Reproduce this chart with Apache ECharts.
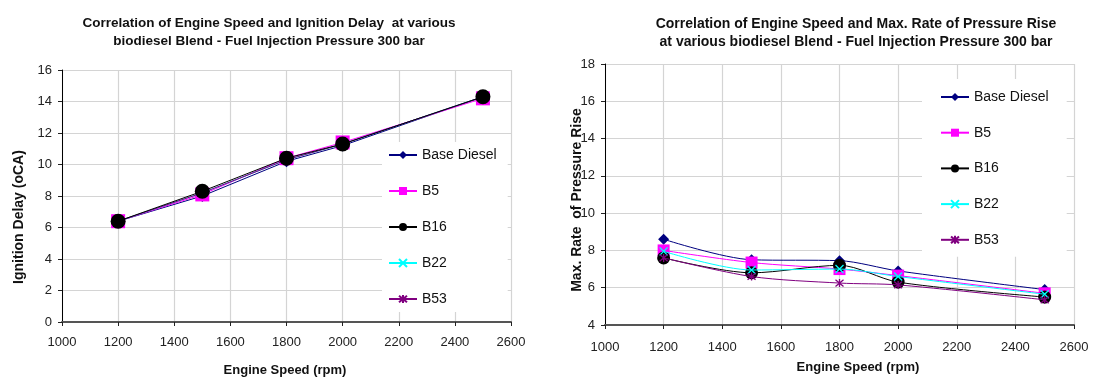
<!DOCTYPE html>
<html>
<head>
<meta charset="utf-8">
<script src="https://cdn.jsdelivr.net/npm/echarts@6/dist/echarts.min.js"></script>
<style>
html,body{margin:0;padding:0;background:#fff;}
#c{width:1097px;height:380px;}
</style>
</head>
<body>
<div id="c"></div>
<script>
// ---- data ----
const speeds = [1200, 1500, 1800, 2000, 2500];
const seriesNames = ['Base Diesel', 'B5', 'B16', 'B22', 'B53'];
const xTicks = [1000, 1200, 1400, 1600, 1800, 2000, 2200, 2400, 2600];

const delayBase = [6.4, 8.0, 10.2, 11.2, 14.3];
const delayB5   = [6.4, 8.1, 10.4, 11.4, 14.2];
const delayB16  = [6.4, 8.3, 10.4, 11.3, 14.3];
const delayB22  = [6.4, 8.2, 10.3, 11.3, 14.3];
const delayB53  = [6.4, 8.2, 10.3, 11.3, 14.3];

const rateBase = [8.6, 7.5, 7.45, 6.9, 5.9];
const rateB5   = [8.0, 7.35, 7.0, 6.65, 5.7];
const rateB16  = [7.6, 6.8, 7.2, 6.3, 5.5];
const rateB22  = [7.95, 6.95, 7.0, 6.6, 5.65];
const rateB53  = [7.6, 6.6, 6.25, 6.15, 5.35];

const titleLeft = 'Correlation of Engine Speed and Ignition Delay  at various\nbiodiesel Blend - Fuel Injection Pressure 300 bar';
const titleRight = 'Correlation of Engine Speed and Max. Rate of Pressure Rise\nat various biodiesel Blend - Fuel Injection Pressure 300 bar';
const xName = 'Engine Speed (rpm)';
const yNameLeft = 'Ignition Delay (oCA)';
const yNameRight = 'Max. Rate  of Pressure Rise';

// ---- styles ----
const FONT = '"Liberation Sans", Arial, sans-serif';
const styles = [
  {color: '#000080', symbol: 'diamond', size: [12, 11]},
  {color: '#FF00FF', symbol: 'rect', size: [14, 12]},
  {color: '#000000', symbol: 'circle', size: [15, 13]},
  {color: '#00FFFF', symbol: 'path://M0,0L10,10M10,0L0,10', size: [8, 8]},
  {color: '#800080', symbol: 'path://M0,0L10,10M10,0L0,10M5,-1L5,11', size: [8, 8]}
];
const leftData = [delayBase, delayB5, delayB16, delayB22, delayB53];
const rightData = [rateBase, rateB5, rateB16, rateB22, rateB53];

function mkSeries(dataArr, idx, smooth) {
  return dataArr.map((vals, i) => {
    const s = styles[i];
    const isPath = s.symbol.startsWith('path');
    return {
      name: seriesNames[i],
      type: 'line',
      xAxisIndex: idx, yAxisIndex: idx,
      data: speeds.map((x, j) => [x, vals[j]]),
      symbol: s.symbol,
      symbolSize: s.size[idx],
      smooth: smooth,
      lineStyle: {color: s.color, width: 1},
      itemStyle: isPath ? {color: s.color, borderColor: s.color, borderWidth: 1.3}
                        : {color: s.color, borderWidth: 0},
      emphasis: {disabled: true},
      animation: false,
      z: (idx === 0 && i === 2) ? 10 : 3 + i
    };
  });
}

function xAxisOpt(idx, margin) {
  return {
    type: 'value', gridIndex: idx, min: 1000, max: 2600, interval: 200,
    axisLine: {show: true, lineStyle: {color: '#555', width: 2}},
    axisTick: {show: true, length: 4, lineStyle: {color: '#222'}},
    axisLabel: {color: '#222', fontFamily: FONT, fontSize: 13, margin: margin,
      formatter: v => (xTicks.indexOf(v) >= 0 ? String(v) : '')},
    splitLine: {show: true, lineStyle: {color: '#d4d4d4', width: 1.2}}
  };
}
function yAxisOpt(idx, min, max) {
  return {
    type: 'value', gridIndex: idx, min: min, max: max, interval: 2,
    axisLine: {show: true, lineStyle: {color: '#000', width: 1}},
    axisTick: {show: true, length: 4, lineStyle: {color: '#222'}},
    axisLabel: {color: '#222', fontFamily: FONT, fontSize: 13, margin: 10},
    splitLine: {show: true, lineStyle: {color: '#d4d4d4', width: 1.2}}
  };
}

const legendCommon = {
  data: seriesNames,
  orient: 'vertical',
  itemWidth: 28, itemHeight: 10,
  backgroundColor: '#ffffff',
  selectedMode: false,
  textStyle: {fontFamily: FONT, fontSize: 14, color: '#111', lineHeight: 14}
};

const option = {
  backgroundColor: '#ffffff',
  animation: false,
  title: [
    {text: titleLeft, left: 264, top: 9, textAlign: 'center',
     textStyle: {fontFamily: FONT, fontSize: 13.5, fontWeight: 'bold', color: '#111', lineHeight: 18}},
    {text: titleRight, left: 851, top: 10, textAlign: 'center',
     textStyle: {fontFamily: FONT, fontSize: 14, fontWeight: 'bold', color: '#111', lineHeight: 18}}
  ],
  grid: [
    {left: 62, right: 1097 - 511, top: 70, bottom: 380 - 322},
    {left: 605, right: 1097 - 1074, top: 64, bottom: 380 - 325}
  ],
  xAxis: [xAxisOpt(0, 14), xAxisOpt(1, 16)],
  yAxis: [yAxisOpt(0, 0, 16), yAxisOpt(1, 4, 18)],
  legend: [
    Object.assign({}, legendCommon, {left: 382, top: 142, itemGap: 22, padding: [6, 11, 6, 6]}),
    Object.assign({}, legendCommon, {left: 922, top: 79, itemGap: 21.7, padding: [11, 18, 10, 18]})
  ],
  graphic: [
    {type: 'text', x: 285, y: 370, style: {text: xName, fontFamily: FONT, fontSize: 13, fontWeight: 'bold', fill: '#111', textAlign: 'center', textVerticalAlign: 'middle'}},
    {type: 'text', x: 858, y: 367, style: {text: xName, fontFamily: FONT, fontSize: 13, fontWeight: 'bold', fill: '#111', textAlign: 'center', textVerticalAlign: 'middle'}},
    {type: 'text', x: 19, y: 217, rotation: Math.PI / 2, style: {text: yNameLeft, fontFamily: FONT, fontSize: 14, fontWeight: 'bold', fill: '#111', textAlign: 'center', textVerticalAlign: 'middle'}},
    {type: 'text', x: 577, y: 200, rotation: Math.PI / 2, z: 10, style: {text: yNameRight, fontFamily: FONT, fontSize: 14, fontWeight: 'bold', fill: '#111', textAlign: 'center', textVerticalAlign: 'middle'}}
  ],
  series: mkSeries(leftData, 0, false).concat(mkSeries(rightData, 1, 0.3))
};

const chart = echarts.init(document.getElementById('c'), null, {renderer: 'canvas'});
chart.setOption(option);
</script>
</body>
</html>
